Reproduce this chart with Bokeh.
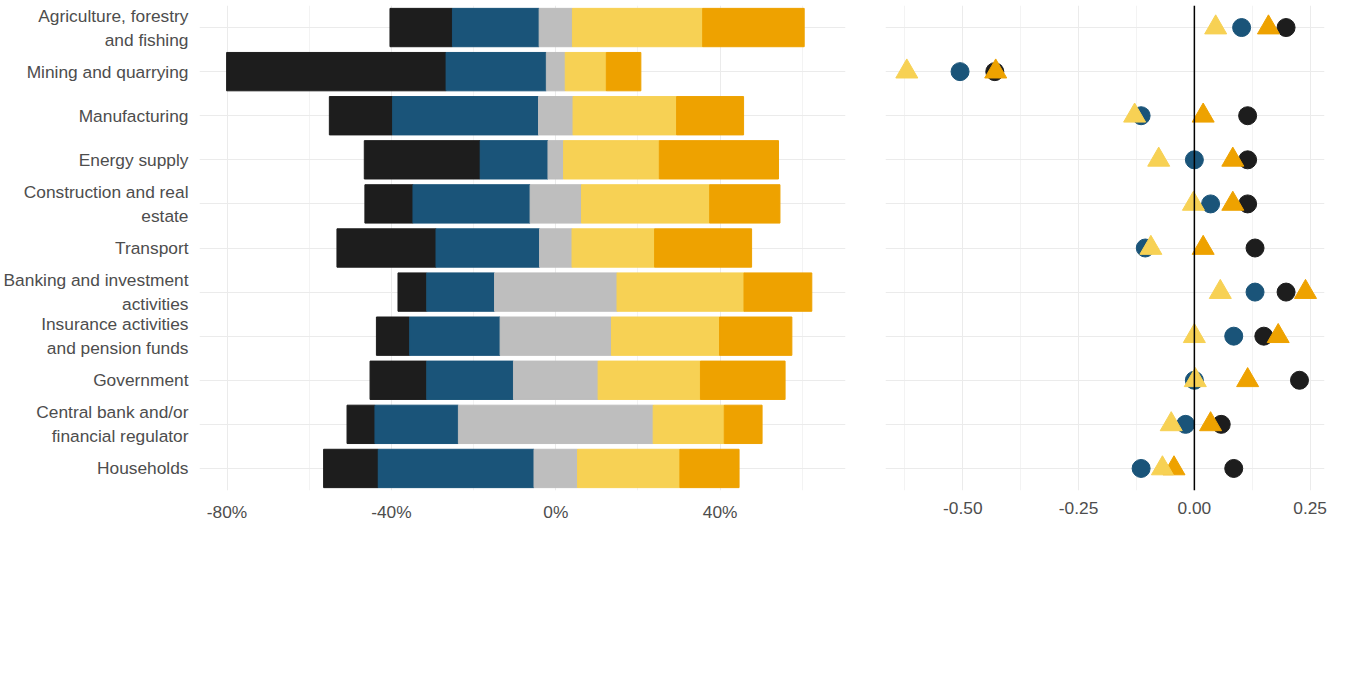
from bokeh.plotting import figure
from bokeh.models import Legend, LegendItem, FixedTicker, Span, NumeralTickFormatter
from bokeh.layouts import row
from bokeh.embed import file_html
from bokeh.resources import INLINE
import numpy as np

sectors = ["Agriculture, forestry\nand fishing", "Mining and quarrying", "Manufacturing", "Energy supply",
           "Construction and real\nestate", "Transport", "Banking and investment\nactivities",
           "Insurance activities\nand pension funds", "Government", "Central bank and/or\nfinancial regulator",
           "Households"]
sig_risk = [15.2, 53.4, 15.4, 28.2, 11.7, 24.1, 7.0, 8.1, 13.8, 6.8, 13.3]
some_risk = [21.1, 24.4, 35.5, 16.5, 28.5, 25.2, 16.5, 22.0, 21.1, 20.3, 37.9]
neither = [8.1, 4.6, 8.4, 3.8, 12.5, 7.9, 29.8, 27.1, 20.6, 47.4, 10.6]
some_opp = [31.7, 10.0, 25.2, 23.3, 31.2, 20.1, 30.9, 26.3, 24.9, 17.3, 24.9]
sig_opp = [24.7, 8.4, 16.3, 29.0, 17.1, 23.6, 16.5, 17.6, 20.6, 9.2, 14.4]

envir = [0.198, -0.431, 0.115, 0.115, 0.115, 0.131, 0.198, 0.150, 0.227, 0.058, 0.085]
not_envir = [0.102, -0.506, -0.115, 0.0, 0.035, -0.106, 0.131, 0.085, 0.0, -0.019, -0.115]
university = [0.160, -0.429, 0.019, 0.083, 0.083, 0.019, 0.240, 0.181, 0.115, 0.035, -0.044]
central_bank = [0.046, -0.621, -0.129, -0.077, -0.002, -0.094, 0.056, 0.0, 0.002, -0.050, -0.069]

C_SR, C_R, C_N, C_O, C_SO = "#1d1d1d", "#1a5479", "#bebebe", "#f7d154", "#eea200"
FONT = "Liberation Sans"
n = len(sectors)
ys = list(range(n))

def style(p):
    p.outline_line_color = None
    p.xgrid.grid_line_color = "#ebebeb"
    p.ygrid.grid_line_color = "#ebebeb"
    p.xgrid.minor_grid_line_color = "#f3f3f3"
    for ax in (p.xaxis, p.yaxis):
        ax.axis_line_color = None
        ax.major_tick_line_color = None
        ax.minor_tick_line_color = None
        ax.major_label_text_font = FONT
        ax.major_label_text_font_size = "13pt"
        ax.major_label_text_color = "#4d4d4d"

def add_leg(p, items, x):
    lg = Legend(items=items, orientation="vertical", location=(x, -150),
                glyph_width=30, glyph_height=30, label_text_font=FONT, label_text_font_size="13pt",
                border_line_color=None, background_fill_alpha=0, spacing=2, padding=0, margin=0,
                label_standoff=8)
    p.add_layout(lg, "center")

# Left panel
nb = np.array(neither)
l_n = -nb / 2
r_n = nb / 2
l_r = l_n - np.array(some_risk)
l_sr = l_r - np.array(sig_risk)
r_o = r_n + np.array(some_opp)
r_so = r_o + np.array(sig_opp)

p1 = figure(width=850, height=655, x_range=(-86.7, 70.5), y_range=(n - 0.5, -0.5),
            output_backend="svg", toolbar_location=None, min_border_left=10, min_border_top=5,
            min_border_bottom=165)
h = 0.87
g1 = p1.hbar(y=ys, left=l_sr, right=l_r, height=h, color=C_SR)
g2 = p1.hbar(y=ys, left=l_r, right=l_n, height=h, color=C_R)
g3 = p1.hbar(y=ys, left=l_n, right=r_n, height=h, color=C_N)
g4 = p1.hbar(y=ys, left=r_n, right=r_o, height=h, color=C_O)
g5 = p1.hbar(y=ys, left=r_o, right=r_so, height=h, color=C_SO)
p1.xaxis.ticker = FixedTicker(ticks=[-80, -40, 0, 40], minor_ticks=[-60, -20, 20, 60])
p1.xaxis.major_label_overrides = {-80: "-80%", -40: "-40%", 0: "0%", 40: "40%"}
p1.yaxis.ticker = FixedTicker(ticks=ys)
p1.yaxis.major_label_overrides = {i: s for i, s in enumerate(sectors)}
style(p1)
add_leg(p1, [LegendItem(label="Significant risk", renderers=[g1]),
             LegendItem(label="Some risk", renderers=[g2])], 35)
add_leg(p1, [LegendItem(label="Significant opportunity", renderers=[g5]),
             LegendItem(label="Some opportunity", renderers=[g4])], 210)
add_leg(p1, [LegendItem(label="Neither", renderers=[g3])], 455)

# Right panel
p2 = figure(width=484, height=655, x_range=(-0.667, 0.281), y_range=(n - 0.5, -0.5),
            output_backend="svg", toolbar_location=None, min_border_left=35, min_border_top=5,
            min_border_right=10, min_border_bottom=165)
p2.add_layout(Span(location=0, dimension="height", line_color="black", line_width=1.5))
s1 = p2.scatter(envir, ys, marker="circle", size=18, color=C_SR)
s2 = p2.scatter(not_envir, ys, marker="circle", size=18, color=C_R)
s3 = p2.scatter(university, ys, marker="triangle", size=22, color=C_SO)
s4 = p2.scatter(central_bank, ys, marker="triangle", size=22, color=C_O)
p2.xaxis.ticker = FixedTicker(ticks=[-0.5, -0.25, 0, 0.25], minor_ticks=[-0.625, -0.375, -0.125, 0.125])
p2.xaxis.formatter = NumeralTickFormatter(format="0.00")
p2.yaxis.ticker = FixedTicker(ticks=ys)
style(p2)
p2.yaxis.major_label_text_font_size = "0pt"
p2.yaxis.visible = False
add_leg(p2, [LegendItem(label="Envir. conscious", renderers=[s1]),
             LegendItem(label="Not envir. conscious", renderers=[s2])], 45)
add_leg(p2, [LegendItem(label="University", renderers=[s3]),
             LegendItem(label="Central Bank", renderers=[s4])], 265)

lay = row(p1, p2)
open("out.html", "w").write(file_html(lay, INLINE))
